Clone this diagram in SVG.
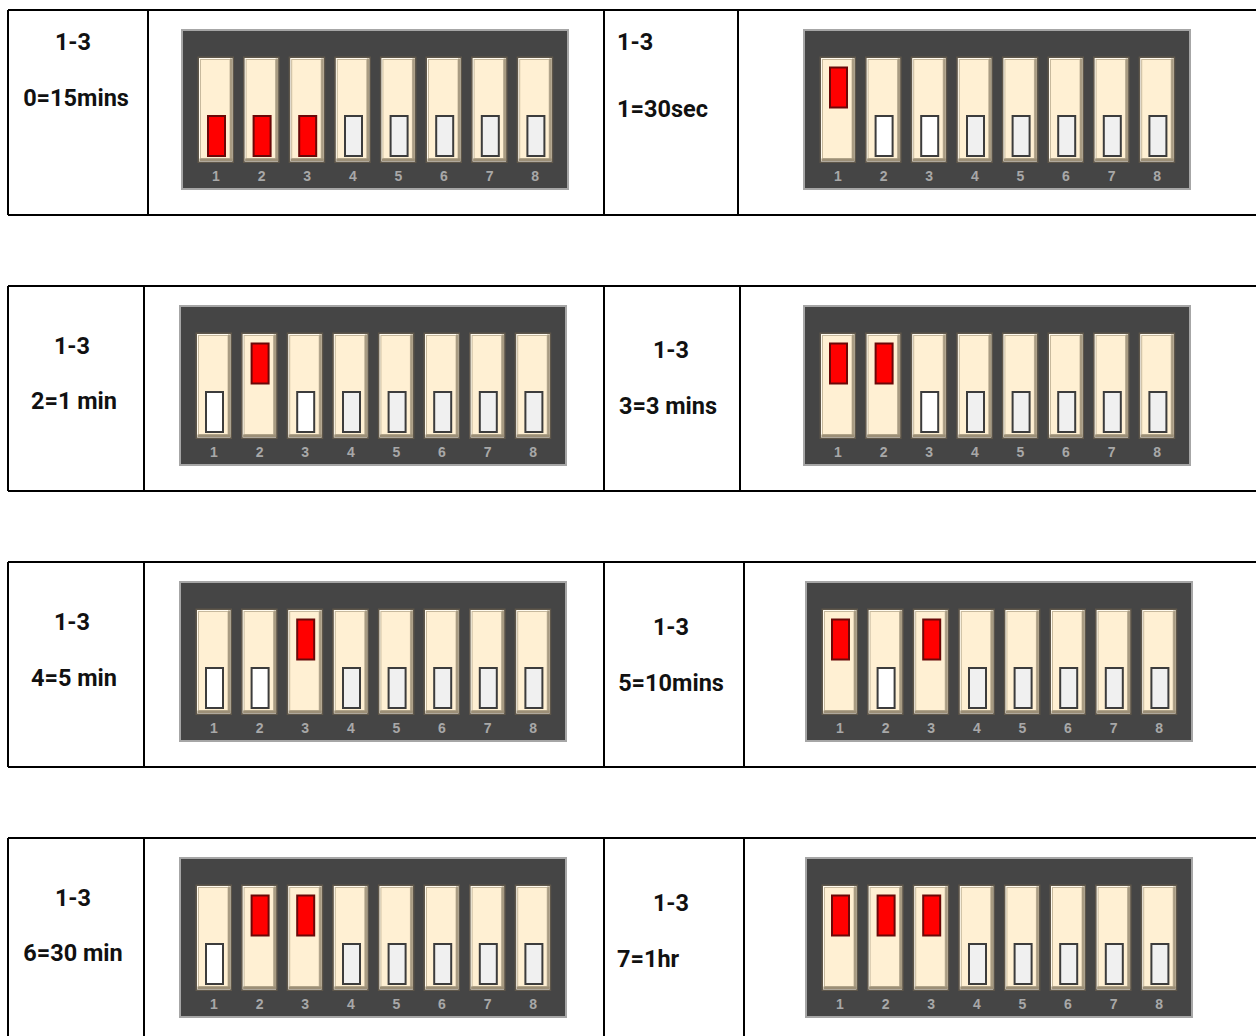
<svg xmlns="http://www.w3.org/2000/svg" xmlns:xlink="http://www.w3.org/1999/xlink" width="1256" height="1036" viewBox="0 0 1256 1036">
<style>
.grid{fill:none;stroke:#000;stroke-width:2}
.lbl{font-family:Roboto,"Liberation Sans",sans-serif;font-weight:bold;font-size:23.5px;fill:#111}
.mid{text-anchor:middle}
.plate{fill:#454545;stroke:#a6a6a6;stroke-width:2}
.num{font-family:"Liberation Sans",Arial,sans-serif;font-weight:bold;font-size:14px;fill:#a8a8a8;text-anchor:middle}
.red{fill:#ff0000;stroke:#6a0808;stroke-width:2}
.wht{fill:#f0f0f0;stroke:#3c3c3c;stroke-width:2}
.wht2{fill:#ffffff;stroke:#3c3c3c;stroke-width:2}
</style>
<defs>
<g id="body">
<rect x="0.75" y="0.75" width="35" height="105" fill="#fffaee" stroke="#5f574a" stroke-width="1.5"/>
<rect x="3" y="3" width="29.5" height="99" fill="#fff0d3" stroke="#c7b99d" stroke-width="1"/>
<rect x="32.5" y="2" width="2.5" height="102" fill="#a89b82"/>
<rect x="2" y="102" width="33" height="2.5" fill="#9c8f77"/>
</g>
<g id="nums">
<text class="num" x="35" y="152">1</text>
<text class="num" x="80.6" y="152">2</text>
<text class="num" x="126.2" y="152">3</text>
<text class="num" x="171.8" y="152">4</text>
<text class="num" x="217.4" y="152">5</text>
<text class="num" x="263" y="152">6</text>
<text class="num" x="308.6" y="152">7</text>
<text class="num" x="354.2" y="152">8</text>
</g>
<g id="dip">
<rect class="plate" x="1" y="1" width="386" height="159"/>
<use xlink:href="#body" x="16.5" y="27.5"/>
<use xlink:href="#body" x="62.1" y="27.5"/>
<use xlink:href="#body" x="107.7" y="27.5"/>
<use xlink:href="#body" x="153.3" y="27.5"/>
<use xlink:href="#body" x="198.9" y="27.5"/>
<use xlink:href="#body" x="244.5" y="27.5"/>
<use xlink:href="#body" x="290.1" y="27.5"/>
<use xlink:href="#body" x="335.7" y="27.5"/>
<use xlink:href="#nums"/>
<rect class="wht" x="164" y="87" width="17" height="40"/>
<rect class="wht" x="209.6" y="87" width="17" height="40"/>
<rect class="wht" x="255.2" y="87" width="17" height="40"/>
<rect class="wht" x="300.8" y="87" width="17" height="40"/>
<rect class="wht" x="346.4" y="87" width="17" height="40"/>
</g>
</defs>

<g id="connectors">
<path class="grid" d="M8 10H1262M8 215H1262M8 10V215M148 10V215M604 10V215M738 10V215"/>
<path class="grid" d="M8 286H1262M8 491H1262M8 286V491M144 286V491M604 286V491M740 286V491"/>
<path class="grid" d="M8 562H1262M8 767H1262M8 562V767M144 562V767M604 562V767M744 562V767"/>
<path class="grid" d="M8 838H1262M8 1040H1262M8 838V1040M144 838V1040M604 838V1040M744 838V1040"/>
</g>

<g id="row1-label-a"><text class="lbl mid" x="73" y="49.5">1-3</text><text class="lbl mid" x="76" y="106">0=15mins</text></g>
<g id="row1-dip-a" transform="translate(181,29)"><use xlink:href="#dip"/>
<rect class="red" x="27" y="87" width="17" height="40"/><rect class="red" x="72.6" y="87" width="17" height="40"/><rect class="red" x="118.2" y="87" width="17" height="40"/></g>
<g id="row1-label-b"><text class="lbl" x="617" y="49.5">1-3</text><text class="lbl" x="617" y="117">1=30sec</text></g>
<g id="row1-dip-b" transform="translate(803,29)"><use xlink:href="#dip"/>
<rect class="red" x="27" y="38.5" width="17" height="40"/><rect class="wht2" x="72.6" y="87" width="17" height="40"/><rect class="wht2" x="118.2" y="87" width="17" height="40"/></g>

<g id="row2-label-a"><text class="lbl mid" x="72" y="354">1-3</text><text class="lbl mid" x="74" y="409">2=1 min</text></g>
<g id="row2-dip-a" transform="translate(179,305)"><use xlink:href="#dip"/>
<rect class="wht2" x="27" y="87" width="17" height="40"/><rect class="red" x="72.6" y="38.5" width="17" height="40"/><rect class="wht2" x="118.2" y="87" width="17" height="40"/></g>
<g id="row2-label-b"><text class="lbl mid" x="671" y="358">1-3</text><text class="lbl mid" x="668" y="414">3=3 mins</text></g>
<g id="row2-dip-b" transform="translate(803,305)"><use xlink:href="#dip"/>
<rect class="red" x="27" y="38.5" width="17" height="40"/><rect class="red" x="72.6" y="38.5" width="17" height="40"/><rect class="wht2" x="118.2" y="87" width="17" height="40"/></g>

<g id="row3-label-a"><text class="lbl mid" x="72" y="630">1-3</text><text class="lbl mid" x="74" y="686">4=5 min</text></g>
<g id="row3-dip-a" transform="translate(179,581)"><use xlink:href="#dip"/>
<rect class="wht2" x="27" y="87" width="17" height="40"/><rect class="wht2" x="72.6" y="87" width="17" height="40"/><rect class="red" x="118.2" y="38.5" width="17" height="40"/></g>
<g id="row3-label-b"><text class="lbl mid" x="671" y="635">1-3</text><text class="lbl mid" x="671" y="691">5=10mins</text></g>
<g id="row3-dip-b" transform="translate(805,581)"><use xlink:href="#dip"/>
<rect class="red" x="27" y="38.5" width="17" height="40"/><rect class="wht2" x="72.6" y="87" width="17" height="40"/><rect class="red" x="118.2" y="38.5" width="17" height="40"/></g>

<g id="row4-label-a"><text class="lbl mid" x="73" y="906">1-3</text><text class="lbl mid" x="73" y="961">6=30 min</text></g>
<g id="row4-dip-a" transform="translate(179,857)"><use xlink:href="#dip"/>
<rect class="wht2" x="27" y="87" width="17" height="40"/><rect class="red" x="72.6" y="38.5" width="17" height="40"/><rect class="red" x="118.2" y="38.5" width="17" height="40"/></g>
<g id="row4-label-b"><text class="lbl mid" x="671" y="911">1-3</text><text class="lbl" x="617" y="967">7=1hr</text></g>
<g id="row4-dip-b" transform="translate(805,857)"><use xlink:href="#dip"/>
<rect class="red" x="27" y="38.5" width="17" height="40"/><rect class="red" x="72.6" y="38.5" width="17" height="40"/><rect class="red" x="118.2" y="38.5" width="17" height="40"/></g>
</svg>
